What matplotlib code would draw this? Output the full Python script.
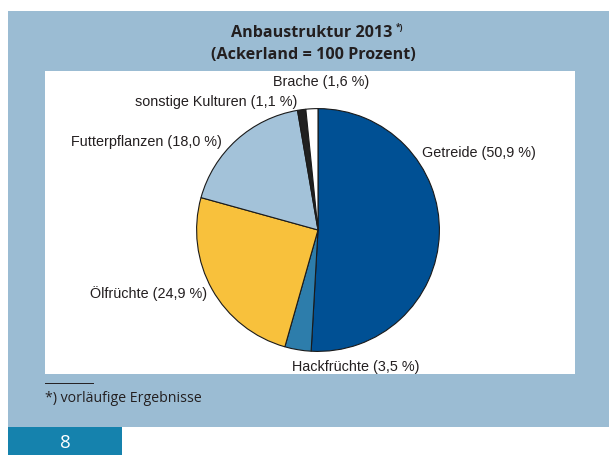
import matplotlib
matplotlib.use("Agg")
import matplotlib.pyplot as plt
from matplotlib.patches import Rectangle
from matplotlib.lines import Line2D

categories = ["Getreide", "Hackfrüchte", "Ölfrüchte", "Futterpflanzen",
              "sonstige Kulturen", "Brache"]
values = [50.9, 3.5, 24.9, 18.0, 1.1, 1.6]
value_labels = ["50,9", "3,5", "24,9", "18,0", "1,1", "1,6"]
colors = ["#005094", "#2d7dab", "#f8c13c", "#a3c2d9", "#202020", "#ffffff"]

W, H = 609, 456
DPI = 100
fig = plt.figure(figsize=(W / DPI, H / DPI), dpi=DPI)
fig.patch.set_facecolor("white")


def fx(x):
    return x / W


def fy(y):
    return 1 - y / H


def rect(x0, y0, x1, y1, color, z=0):
    fig.patches.append(Rectangle((fx(x0), fy(y1)), fx(x1) - fx(x0), fy(y0) - fy(y1),
                                 transform=fig.transFigure, facecolor=color,
                                 edgecolor="none", zorder=z))


# background panels
rect(8, 12, 609, 428, "#9bbcd3", 0)
rect(45, 72, 575, 375, "#ffffff", 0.5)
rect(8, 428, 122, 456, "#1582ad", 0.5)

# title
fig.text(fx(312), fy(33), "Anbaustruktur 2013", ha="center", va="center",
         fontsize=11.6, fontweight="bold", family="Open Sans", color="#231f20")
fig.text(fx(396), fy(28), "*)", ha="left", va="center",
         fontsize=6, fontweight="bold", family="Open Sans", color="#231f20")
fig.text(fx(313), fy(55), "(Ackerland = 100 Prozent)", ha="center", va="center",
         fontsize=11.6, fontweight="bold", family="Open Sans", color="#231f20")

# pie
cx, cy, r = 318, 231, 122
ax = fig.add_axes([fx(cx - r), fy(cy + r), 2 * r / W, 2 * r / H])
ax.set_zorder(2)
ax.patch.set_visible(False)
ax.pie(values, colors=colors, startangle=90, counterclock=False, radius=1,
       wedgeprops=dict(edgecolor="#1a1a1a", linewidth=0.8))
ax.set_xlim(-1.005, 1.005)
ax.set_ylim(-1.005, 1.005)
ax.set_aspect("auto")
ax.axis("off")

# labels (position, alignment)
label_pos = [(422, 153, "left"), (292, 367, "left"), (207, 294, "right"),
             (222, 142, "right"), (297, 102, "right"), (273, 82, "left")]
for name, vl, (lx, ly, ha) in zip(categories, value_labels, label_pos):
    fig.text(fx(lx), fy(ly), f"{name} ({vl} %)", ha=ha, va="center",
             fontsize=10.4, family="Liberation Sans", color="#231f20", zorder=5)

# footnote
fig.lines.append(Line2D([fx(45), fx(93)], [fy(384), fy(384)],
                        transform=fig.transFigure, color="#231f20", linewidth=0.7))
fig.text(fx(45), fy(398), "*) vorläufige Ergebnisse", ha="left", va="center",
         fontsize=10.2, family="Open Sans", color="#231f20")

# page number
fig.text(fx(65), fy(443), "8", ha="center", va="center", fontsize=13.5,
         family="Open Sans", color="white")

fig.savefig("out.png", dpi=DPI)
